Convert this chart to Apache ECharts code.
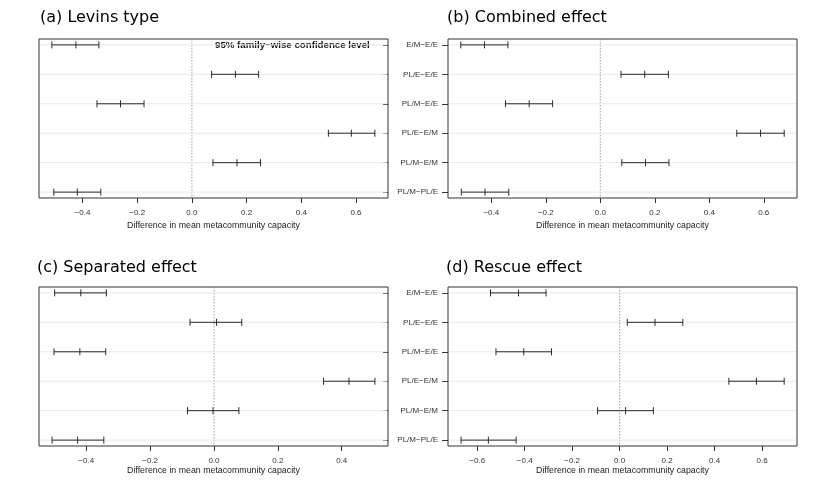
<!DOCTYPE html>
<html>
<head>
<meta charset="utf-8">
<script src="https://cdn.jsdelivr.net/npm/echarts@6/dist/echarts.min.js"></script>
<style>
html,body{margin:0;padding:0;background:#fff;}
#chart{width:817px;height:496px;}
</style>
</head>
<body>
<div id="chart"></div>
<script>
// Comparisons (top to bottom)
const categories = ['E/M\u2212E/E', 'PL/E\u2212E/E', 'PL/M\u2212E/E', 'PL/E\u2212E/M', 'PL/M\u2212E/M', 'PL/M\u2212PL/E'];
const panelTitles = ['(a) Levins type', '(b) Combined effect', '(c) Separated effect', '(d) Rescue effect'];
const xTickValues = [[-0.4, -0.2, 0, 0.2, 0.4, 0.6], [-0.4, -0.2, 0, 0.2, 0.4, 0.6], [-0.4, -0.2, 0, 0.2, 0.4], [-0.6, -0.4, -0.2, 0, 0.2, 0.4, 0.6]];
const xRanges = [[-0.559, 0.717], [-0.559, 0.722], [-0.548, 0.545], [-0.723, 0.747]];
const xAxisTitle = 'Difference in mean metacommunity capacity';
const annotation = '95% family\u2212wise confidence level';

// (a) Levins type
const levinsLower = [-0.512, 0.072, -0.347, 0.499, 0.077, -0.505];
const levinsMean  = [-0.424, 0.159, -0.261, 0.583, 0.165, -0.419];
const levinsUpper = [-0.340, 0.244, -0.175, 0.669, 0.251, -0.333];
// (b) Combined effect
const combinedLower = [-0.512, 0.076, -0.348, 0.501, 0.079, -0.510];
const combinedMean  = [-0.425, 0.163, -0.261, 0.588, 0.166, -0.423];
const combinedUpper = [-0.339, 0.250, -0.175, 0.675, 0.252, -0.336];
// (c) Separated effect
const separatedLower = [-0.499, -0.075, -0.501, 0.343, -0.083, -0.507];
const separatedMean  = [-0.417, 0.008, -0.420, 0.423, -0.003, -0.427];
const separatedUpper = [-0.337, 0.087, -0.339, 0.504, 0.078, -0.345];
// (d) Rescue effect
const rescueLower = [-0.544, 0.032, -0.521, 0.460, -0.093, -0.668];
const rescueMean  = [-0.426, 0.149, -0.404, 0.576, 0.025, -0.553];
const rescueUpper = [-0.310, 0.266, -0.287, 0.693, 0.142, -0.436];

const panels = [
  [levinsLower, levinsMean, levinsUpper],
  [combinedLower, combinedMean, combinedUpper],
  [separatedLower, separatedMean, separatedUpper],
  [rescueLower, rescueMean, rescueUpper]
];

const gridPos = [
  {left: 39, top: 39, width: 349, height: 159},
  {left: 448, top: 39, width: 349, height: 159},
  {left: 39, top: 287, width: 349, height: 159},
  {left: 448, top: 287, width: 349, height: 159}
];
const titlePos = [[40, 10], [447, 10], [37, 260], [446, 260]];
const labelMargin = [11, 11, 10.5, 10.5];
const nameGap = [23, 23.5, 20, 20.5];

const FONT = '"Liberation Sans", Arial, sans-serif';
const DARK = '#333';

function fmtX(v) {
  const s = Math.abs(v).toFixed(1);
  return (v < -1e-9 ? '\u2212' : '') + s;
}

const option = {
  backgroundColor: '#fff',
  animation: false,
  title: panelTitles.map((t, i) => ({
    text: t, left: titlePos[i][0], top: titlePos[i][1], padding: 0,
    textStyle: {fontFamily: '"DejaVu Sans", sans-serif', fontSize: 16, fontWeight: 'normal', color: '#000'}
  })),
  grid: gridPos.map(g => Object.assign({show: true, borderColor: DARK, borderWidth: 1, backgroundColor: 'transparent', containLabel: false}, g)),
  xAxis: panels.map((p, i) => ({
    type: 'value', gridIndex: i, min: xRanges[i][0], max: xRanges[i][1],
    position: 'bottom',
    axisLine: {show: false, onZero: false},
    splitLine: {show: false},
    axisTick: {show: true, length: 5, customValues: xTickValues[i], lineStyle: {color: DARK}},
    axisLabel: {customValues: xTickValues[i], formatter: fmtX, fontFamily: FONT, fontSize: 8, color: '#333', margin: labelMargin[i]},
    name: xAxisTitle, nameLocation: 'middle', nameGap: nameGap[i],
    nameTextStyle: {fontFamily: FONT, fontSize: 8.8, color: '#222'}
  })),
  yAxis: panels.map((p, i) => {
    const left = (i === 1 || i === 3);
    return {
      type: 'value', gridIndex: i, inverse: true, min: -0.2, max: 5.2,
      position: left ? 'left' : 'right',
      axisLine: {show: false, onZero: false},
      splitLine: {show: false},
      axisTick: {show: true, inside: !left, length: left ? 6 : 5, customValues: [0, 1, 2, 3, 4, 5], lineStyle: {color: DARK}},
      axisLabel: {show: left, customValues: [0, 1, 2, 3, 4, 5], margin: 10, formatter: v => categories[Math.round(v)] || '',
        fontFamily: FONT, fontSize: 8, color: '#333'}
    };
  }),
  graphic: [{
    type: 'text', left: 215, top: 40,
    style: {text: annotation, font: 'bold 9.7px "Liberation Sans", Arial, sans-serif', fill: '#111'}
  }],
  series: []
};

panels.forEach((p, i) => {
  const data = categories.map((c, k) => [p[0][k], p[1][k], p[2][k], k]);
  option.series.push({
    type: 'line', xAxisIndex: i, yAxisIndex: i, data: [[0, -0.2], [0, 5.2]],
    symbol: 'none', silent: true, z: 1,
    lineStyle: {color: '#888', width: 0.8, type: [1.5, 1.5]}
  });
  option.series.push({
    type: 'custom', xAxisIndex: i, yAxisIndex: i, data: data, silent: true, z: 2,
    encode: {x: [0, 1, 2], y: 3},
    renderItem: function (params, api) {
      const yv = api.value(3);
      const lo = api.coord([api.value(0), yv]);
      const mid = api.coord([api.value(1), yv]);
      const hi = api.coord([api.value(2), yv]);
      const cs = params.coordSys;
      const h = 3.5;
      const st = {stroke: '#2b2b2b', lineWidth: 1};
      return {
        type: 'group',
        children: [
          {type: 'line', z2: 0, shape: {x1: cs.x + 1, y1: lo[1], x2: cs.x + cs.width - 1, y2: lo[1]}, style: {stroke: '#e8e8e8', lineWidth: 1}},
          {type: 'line', z2: 1, shape: {x1: lo[0], y1: lo[1], x2: hi[0], y2: hi[1]}, style: st},
          {type: 'line', z2: 1, shape: {x1: lo[0], y1: lo[1] - h, x2: lo[0], y2: lo[1] + h}, style: st},
          {type: 'line', z2: 1, shape: {x1: mid[0], y1: mid[1] - h, x2: mid[0], y2: mid[1] + h}, style: st},
          {type: 'line', z2: 1, shape: {x1: hi[0], y1: hi[1] - h, x2: hi[0], y2: hi[1] + h}, style: st}
        ]
      };
    }
  });
});

const chart = echarts.init(document.getElementById('chart'), null, {renderer: 'canvas'});
chart.setOption(option);
</script>
</body>
</html>
